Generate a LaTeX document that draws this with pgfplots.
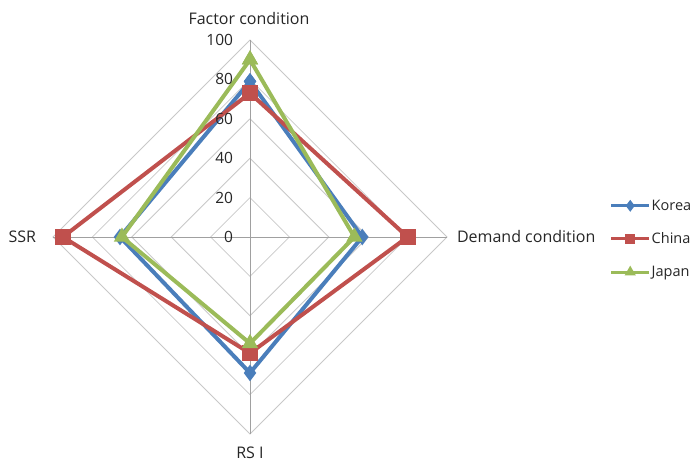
\documentclass[border=0pt]{standalone}
\usepackage{pgfplots}
\pgfplotsset{compat=1.18}
\usepackage{fontspec}
\setmainfont{Open Sans}
\definecolor{kor}{RGB}{74,126,187}
\definecolor{chn}{RGB}{192,80,77}
\definecolor{jpn}{RGB}{155,187,89}
\definecolor{gridc}{RGB}{200,200,200}
\definecolor{spoke}{RGB}{160,160,160}
\tikzset{lbl/.style={font=\fontsize{16}{18}\selectfont, inner sep=0pt, text=black!85}}
\tikzset{tlbl/.style={font=\fontsize{15.5}{18}\selectfont, inner sep=0pt, text=black!85}}
\begin{document}
\begin{tikzpicture}
\path[use as bounding box] (0,0) rectangle (691pt,463pt);
\begin{axis}[
  at={(250pt,226pt)}, anchor=origin,
  scale only axis, width=394pt, height=394pt,
  xmin=-100, xmax=100, ymin=-100, ymax=100,
  hide axis, clip=false,
  legend style={at={(axis cs:182.5,-1)}, anchor=west, draw=none, fill=none, inner sep=0pt,
    row sep=17pt, font=\fontsize{14.5}{17}\selectfont, text=black!85, cells={anchor=west},
    nodes={inner xsep=1pt}},
  legend image code/.code={\draw[mark repeat=2,mark phase=2,#1,line width=3pt,mark size=3.5pt] plot coordinates {(0pt,0pt) (19pt,0pt) (38pt,0pt)};},
]
% grid rings
\addplot[gridc, line width=0.8pt, forget plot] coordinates {(0,20)(20,0)(0,-20)(-20,0)(0,20)};
\addplot[gridc, line width=0.8pt, forget plot] coordinates {(0,40)(40,0)(0,-40)(-40,0)(0,40)};
\addplot[gridc, line width=0.8pt, forget plot] coordinates {(0,60)(60,0)(0,-60)(-60,0)(0,60)};
\addplot[gridc, line width=0.8pt, forget plot] coordinates {(0,80)(80,0)(0,-80)(-80,0)(0,80)};
\addplot[gridc, line width=0.8pt, forget plot] coordinates {(0,100)(100,0)(0,-100)(-100,0)(0,100)};
% spokes
\addplot[spoke, line width=0.8pt, forget plot] coordinates {(0,-100)(0,100)};
\addplot[spoke, line width=0.8pt, forget plot] coordinates {(-100,0)(100,0)};
% series: Factor (top), Demand (right), RS I (bottom), SSR (left)
\addplot[kor, line width=4pt, mark=diamond*, mark size=5pt, mark options={solid}] coordinates {(0,79)(57,0)(0,-69)(-66,0)(0,79)};
\addlegendentry{Korea}
\addplot[chn, line width=4pt, mark=square*, mark size=6pt, mark options={solid}] coordinates {(0,73)(80,0)(0,-59)(-95,0)(0,73)};
\addlegendentry{China}
\addplot[jpn, line width=4pt, mark=triangle*, mark size=5.5pt, mark options={solid}] coordinates {(0,90)(53,0)(0,-54)(-65,0)(0,90)};
\addlegendentry{Japan}
% tick labels
\node[tlbl, anchor=east] at (axis cs:-8.5,0) {0};
\node[tlbl, anchor=east] at (axis cs:-8.5,20) {20};
\node[tlbl, anchor=east] at (axis cs:-8.5,40) {40};
\node[tlbl, anchor=east] at (axis cs:-8.5,60) {60};
\node[tlbl, anchor=east] at (axis cs:-8.5,80) {80};
\node[tlbl, anchor=east] at (axis cs:-8.5,100) {100};
\node[lbl, anchor=base] at (axis cs:-0.5,108) {Factor condition};
\node[lbl, anchor=west] at (axis cs:105,0) {Demand condition};
\node[lbl, anchor=base] at (axis cs:0,-112.5) {RS I};
\node[lbl, anchor=east] at (axis cs:-108.5,0) {SSR};
\end{axis}
\end{tikzpicture}
\end{document}
